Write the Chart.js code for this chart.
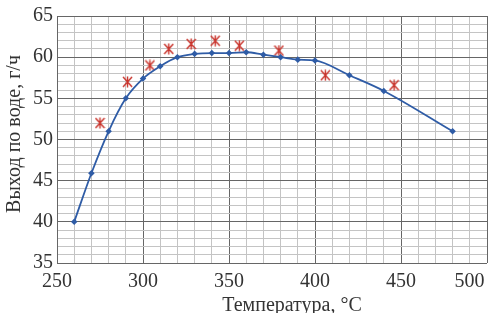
<!DOCTYPE html>
<html>
<head>
<meta charset="utf-8">
<script src="https://cdn.jsdelivr.net/npm/chart.js@4.4.1/dist/chart.umd.min.js"></script>
<style>
  html, body { margin: 0; padding: 0; background: #fff; }
  #wrap { width: 493px; height: 313px; }
</style>
</head>
<body>
<div id="wrap"><canvas id="tempChart" width="493" height="313"></canvas></div>
<script>
// расчётная кривая (синяя)
const calcTemp = [260, 270, 280, 290, 300, 310, 320, 330, 340, 350, 360, 370, 380, 390, 400, 420, 440, 480];
const calcYield = [40, 45.9, 51, 55, 57.4, 58.9, 60, 60.4, 60.5, 60.5, 60.6, 60.3, 60, 59.7, 59.6, 57.8, 55.9, 51];

// эксперимент (красные звёздочки)
const expTemp = [275, 291, 304, 315, 328, 342, 356, 379, 406, 446];
const expYield = [52, 57, 59, 61, 61.6, 62, 61.4, 60.8, 57.8, 56.6];

const xTitle = 'Температура, °C';
const yTitle = 'Выход по воде, г/ч';

const FONT = 'Liberation Serif';

// маркер в виде "Ж"
function makeMarker() {
    const c = document.createElement('canvas');
    c.width = 11; c.height = 12;
    const g = c.getContext('2d');
    g.strokeStyle = '#c8322a';
    g.lineWidth = 1.4;
    g.beginPath();
    g.moveTo(5.5, 0.5); g.lineTo(5.5, 11.5);
    g.moveTo(1, 1); g.lineTo(10, 11);
    g.moveTo(10, 1); g.lineTo(1, 11);
    g.stroke();
    return c;
}

// подписи осей рисуем сами, чтобы поставить их как на картинке
const axisTitles = {
    id: 'axisTitles',
    afterDraw(chart) {
        const ctx = chart.ctx;
        ctx.save();
        ctx.fillStyle = '#333';
        ctx.font = '20px "' + FONT + '"';
        ctx.textAlign = 'center';
        ctx.textBaseline = 'alphabetic';
        ctx.fillText(xTitle, 292, 311);
        ctx.translate(20, 134);
        ctx.rotate(-Math.PI / 2);
        ctx.fillText(yTitle, 0, 0);
        ctx.restore();
    }
};

function toPoints(xs, ys) {
    return xs.map((x, i) => ({ x: x, y: ys[i] }));
}

new Chart(document.getElementById('tempChart'), {
    type: 'line',
    data: {
        datasets: [{
            data: toPoints(calcTemp, calcYield),
            borderColor: '#2f5ca6',
            backgroundColor: '#2f5ca6',
            borderWidth: 1.8,
            pointStyle: 'rectRot',
            pointRadius: 2,
            cubicInterpolationMode: 'monotone'
        }, {
            data: toPoints(expTemp, expYield),
            showLine: false,
            pointStyle: makeMarker()
        }]
    },
    options: {
        responsive: false,
        animation: false,
        layout: { padding: { top: 6, right: 6, left: 0, bottom: 0 } },
        plugins: { legend: { display: false }, tooltip: { enabled: false } },
        scales: {
            x: {
                type: 'linear',
                min: 250, max: 500,
                afterFit(scale) { scale.height = 50; scale.paddingLeft = 0; scale.paddingRight = 0; },
                grid: {
                    drawTicks: false,
                    color: c => (c.tick && c.tick.value % 50 === 0) ? '#666' : '#c4c4c4',
                    lineWidth: 1
                },
                border: { display: false },
                ticks: {
                    stepSize: 10,
                    autoSkip: false,
                    maxRotation: 0,
                    padding: 7,
                    color: '#333',
                    font: { family: FONT, size: 20 },
                    callback: v => v === 500 ? '500\u00a0\u00a0\u00a0\u00a0\u00a0\u00a0\u00a0' : (v % 50 === 0 ? v : '')
                }
            },
            y: {
                min: 35, max: 65,
                afterFit(scale) { scale.width = 57; },
                grid: {
                    drawTicks: false,
                    color: c => (c.tick && c.tick.value % 5 === 0) ? '#666' : '#c4c4c4',
                    lineWidth: 1
                },
                border: { display: true, color: '#666' },
                ticks: {
                    stepSize: 1,
                    autoSkip: false,
                    padding: 4,
                    color: '#333',
                    font: { family: FONT, size: 20 },
                    callback: v => v % 5 === 0 ? v : ''
                }
            }
        }
    },
    plugins: [axisTitles]
});
</script>
</body>
</html>
